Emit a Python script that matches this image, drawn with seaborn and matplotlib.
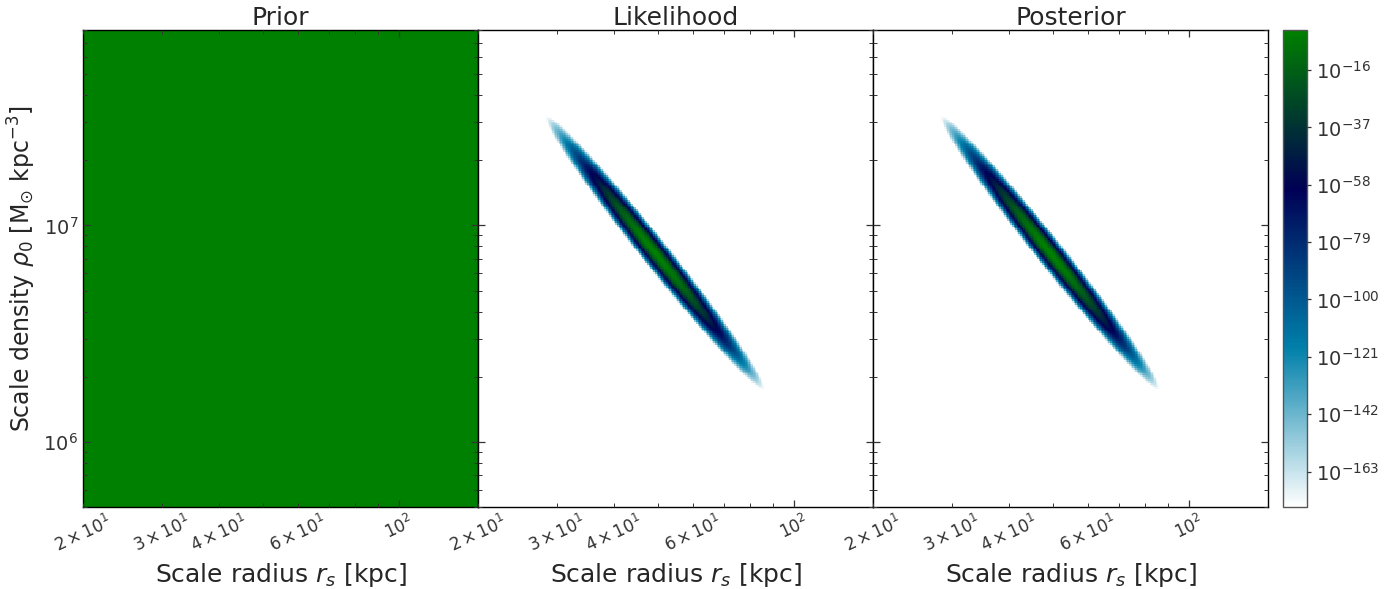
import numpy as np
import matplotlib
matplotlib.use("Agg")
import matplotlib.pyplot as plt
from matplotlib.colors import LogNorm
from matplotlib.ticker import NullLocator
import seaborn as sns

# --- values ---
panel_titles = ["Prior", "Likelihood", "Posterior"]
rs_range = [20, 150]          # kpc, each panel
rho_range = [5e5, 8e7]        # Msun kpc^-3
# ridge of the likelihood: upper-left and lower-right ends
tip_rs = [28.3, 86.0]
tip_rho = [3.2e7, 1.75e6]
half_width_dex = 0.064        # half width across the ridge (dex of rho0)
log_peak = -1.3               # log10 of peak value (top of colour bar)
log_floor = -176.0            # log10 of bottom of colour bar
cbar_exps = [-16, -37, -58, -79, -100, -121, -142, -163]
x_dex_scale = 2.09            # px per dex along x relative to y in the panels
n_grid = 250

sns.set_style("ticks")
plt.rcParams.update({
    "axes.axisbelow": False,
    "xtick.direction": "in", "ytick.direction": "in",
    "xtick.top": True, "ytick.right": True,
    "xtick.major.size": 5, "ytick.major.size": 5,
    "xtick.minor.size": 3, "ytick.minor.size": 3,
    "xtick.major.width": 0.9, "ytick.major.width": 0.9,
    "xtick.minor.width": 0.7, "ytick.minor.width": 0.7,
    "xtick.color": "#333333", "ytick.color": "#333333",
    "axes.edgecolor": "black", "axes.linewidth": 1.0,
    "font.family": ["DejaVu Sans"],
})

# grid
rs_edges = np.geomspace(rs_range[0], rs_range[1], n_grid + 1)
rho_edges = np.geomspace(rho_range[0], rho_range[1], n_grid + 1)
rs_c = np.sqrt(rs_edges[:-1] * rs_edges[1:])
rho_c = np.sqrt(rho_edges[:-1] * rho_edges[1:])
X, Y = np.meshgrid(np.log10(rs_c) * x_dex_scale, np.log10(rho_c))

p0 = np.array([np.log10(tip_rs[0]) * x_dex_scale, np.log10(tip_rho[0])])
p1 = np.array([np.log10(tip_rs[1]) * x_dex_scale, np.log10(tip_rho[1])])
mid = (p0 + p1) / 2
half_len = np.linalg.norm(p1 - p0) / 2
along = (p1 - p0) / (2 * half_len)
perp = np.array([-along[1], along[0]])
t = ((X - mid[0]) * along[0] + (Y - mid[1]) * along[1]) / half_len
s = ((X - mid[0]) * perp[0] + (Y - mid[1]) * perp[1]) / half_width_dex
r2 = t ** 2 + s ** 2
log_like = log_peak + (log_floor - log_peak) * r2
likelihood = 10.0 ** np.clip(log_like, -300, None)
prior = np.full_like(likelihood, 10.0 ** log_peak)
posterior = likelihood.copy()
fields = [prior, likelihood, posterior]

norm = LogNorm(vmin=10.0 ** log_floor, vmax=10.0 ** log_peak)
cmap = plt.get_cmap("ocean_r")

fig = plt.figure(figsize=(13.95, 5.89), dpi=100)
left, bottom, height = 83 / 1395, 82 / 589, 477 / 589
pw = 395 / 1395
axes = []
for i in range(3):
    ax = fig.add_axes([left + i * pw, bottom, pw, height])
    axes.append(ax)
    mesh = ax.pcolormesh(rs_edges, rho_edges, fields[i], cmap=cmap, norm=norm,
                         shading="flat", rasterized=True)
    ax.set_xscale("log")
    ax.set_yscale("log")
    ax.set_xlim(rs_range)
    ax.set_ylim(rho_range)
    ax.set_title(panel_titles[i], fontsize=18, pad=3)
    ax.set_xlabel(r"Scale radius $r_s$ [kpc]", fontsize=18)
    ax.tick_params(axis="x", which="both", labelsize=12, labelrotation=25)
    ax.tick_params(axis="y", which="both", labelsize=14)
    if i > 0:
        ax.tick_params(axis="y", which="both", labelleft=False)
axes[0].set_ylabel(r"Scale density $\rho_0$ [$\mathrm{M}_{\odot}$ kpc$^{-3}$]",
                   fontsize=17)

cax = fig.add_axes([1283 / 1395, bottom, 24 / 1395, height])
cb = fig.colorbar(mesh, cax=cax, ticks=[10.0 ** e for e in cbar_exps])
cax.yaxis.set_minor_locator(NullLocator())
cax.tick_params(direction="out", right=True, left=False, labelsize=14, length=3)
cb.outline.set_edgecolor("#555555")

fig.savefig("out.png", dpi=100)
